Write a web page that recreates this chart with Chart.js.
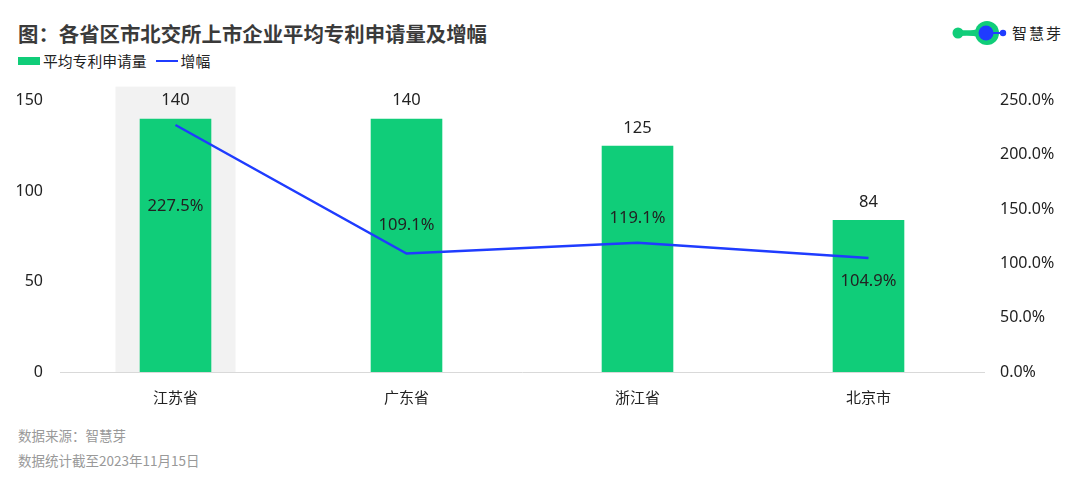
<!DOCTYPE html>
<html>
<head>
<meta charset="utf-8">
<script src="https://cdn.jsdelivr.net/npm/chart.js@4"></script>
<style>
  body { margin: 0; width: 1080px; height: 477px; background: #fff; position: relative; overflow: hidden;
    font-family: "Noto Sans CJK SC", "Noto Sans", sans-serif; }
  .title { position: absolute; left: 18px; top: 18px; font-size: 20.4px; font-weight: bold; color: #3a3a3a; }
  .legend { position: absolute; left: 18px; top: 50px; font-size: 14.8px; color: #222; display: flex; align-items: center; }
  .legend .box { width: 22px; height: 8px; background: #10cd79; margin-right: 3px; }
  .legend .ln { width: 22px; height: 2px; background: #1f3cff; margin: 0 3px 0 9px; }
  .foot { position: absolute; left: 18px; font-size: 13.5px; color: #999; }
  .logo { position: absolute; left: 948px; top: 19px; width: 120px; height: 30px; }
  #wrap { position: absolute; left: 0; top: 74px; width: 1080px; height: 336px; }
</style>
</head>
<body>
<div class="title">图：各省区市北交所上市企业平均专利申请量及增幅</div>
<div class="legend"><span class="box"></span>平均专利申请量<span class="ln"></span>增幅</div>
<svg class="logo" viewBox="0 0 120 30">
  <circle cx="10" cy="14" r="5.5" fill="#10cd79"/>
  <path d="M10 11 Q25 12 30 10 L30 18 Q25 16 10 17 Z" fill="#10cd79"/>
  <circle cx="39" cy="14" r="12" fill="#10cd79"/>
  <circle cx="38" cy="14" r="7.5" fill="#1f3cff"/>
  <rect x="40" y="13" width="14" height="2" fill="#1f3cff"/>
  <circle cx="55" cy="14" r="3.2" fill="#1f3cff"/>
  <text x="64" y="20" font-size="15" fill="#222" letter-spacing="2" font-family="Noto Sans CJK SC">智慧芽</text>
</svg>
<div id="wrap"><canvas id="chart"></canvas></div>
<div class="foot" style="top:425px">数据来源：智慧芽</div>
<div class="foot" style="top:450px">数据统计截至2023年11月15日</div>
<script>
const categories = ['江苏省', '广东省', '浙江省', '北京市']
const avgPatents = [140, 140, 125, 84]
const growth = [227.5, 109.1, 119.1, 104.9]
const leftTicks = [0, 50, 100, 150]
const rightTicks = [0, 50, 100, 150, 200, 250]
// where each growth label sits relative to its point (px)
const growthLabelOffset = [81, -28, -24, 23]

const highlight = {
  id: 'highlight',
  beforeDatasetsDraw(chart) {
    const x = chart.scales.x.getPixelForValue(0)
    const ctx = chart.ctx
    ctx.save()
    ctx.fillStyle = '#f2f2f2'
    ctx.fillRect(x - 60, chart.chartArea.top - 14, 120, chart.chartArea.bottom - chart.chartArea.top + 14)
    ctx.restore()
  }
}

const numFont = '"Noto Sans", "Noto Sans CJK SC", sans-serif'

const valueLabels = {
  id: 'valueLabels',
  afterDatasetsDraw(chart) {
    const ctx = chart.ctx
    ctx.save()
    ctx.font = '16.5px ' + numFont
    ctx.fillStyle = '#222'
    ctx.textAlign = 'center'
    ctx.textBaseline = 'middle'
    chart.getDatasetMeta(1).data.forEach((bar, i) => {
      ctx.fillText(avgPatents[i], bar.x, bar.y - 18)
    })
    chart.getDatasetMeta(0).data.forEach((pt, i) => {
      ctx.fillText(growth[i].toFixed(1) + '%', pt.x, pt.y + growthLabelOffset[i])
    })
    ctx.restore()
  }
}

const tickFont = { family: numFont, size: 16 }

new Chart(document.getElementById('chart'), {
  data: {
    labels: categories,
    datasets: [
      {
        type: 'line',
        label: '增幅',
        data: growth,
        yAxisID: 'y1',
        borderColor: '#1f3cff',
        borderWidth: 2.5,
        pointRadius: 0,
        tension: 0,
        order: 1
      },
      {
        type: 'bar',
        label: '平均专利申请量',
        data: avgPatents,
        yAxisID: 'y',
        backgroundColor: '#10cd79',
        barPercentage: 0.62,
        categoryPercentage: 0.5,
        order: 2
      }
    ]
  },
  options: {
    responsive: true,
    maintainAspectRatio: false,
    animation: false,
    layout: { padding: { top: 12, left: 0, right: 0, bottom: 0 } },
    plugins: { legend: { display: false }, tooltip: { enabled: false } },
    scales: {
      x: {
        grid: { display: false },
        border: { display: true, color: '#d9d9d9', width: 1 },
        ticks: { color: '#222', font: { family: '"Noto Sans CJK SC", sans-serif', size: 15 }, padding: 8 },
        afterFit(s) { s.height = 38 }
      },
      y: {
        position: 'left',
        min: 0, max: 150,
        afterBuildTicks(s) { s.ticks = leftTicks.map(v => ({ value: v })) },
        grid: { display: false, drawTicks: false },
        border: { display: false },
        ticks: { color: '#222', font: tickFont, padding: 17 },
        afterFit(s) { s.width = 60 }
      },
      y1: {
        position: 'right',
        min: 0, max: 250,
        afterBuildTicks(s) { s.ticks = rightTicks.map(v => ({ value: v })) },
        grid: { display: false, drawTicks: false },
        border: { display: false },
        ticks: { color: '#222', font: tickFont, padding: 16, callback: v => v.toFixed(1) + '%' },
        afterFit(s) { s.width = 96 }
      }
    }
  },
  plugins: [highlight, valueLabels]
})
</script>
</body>
</html>
